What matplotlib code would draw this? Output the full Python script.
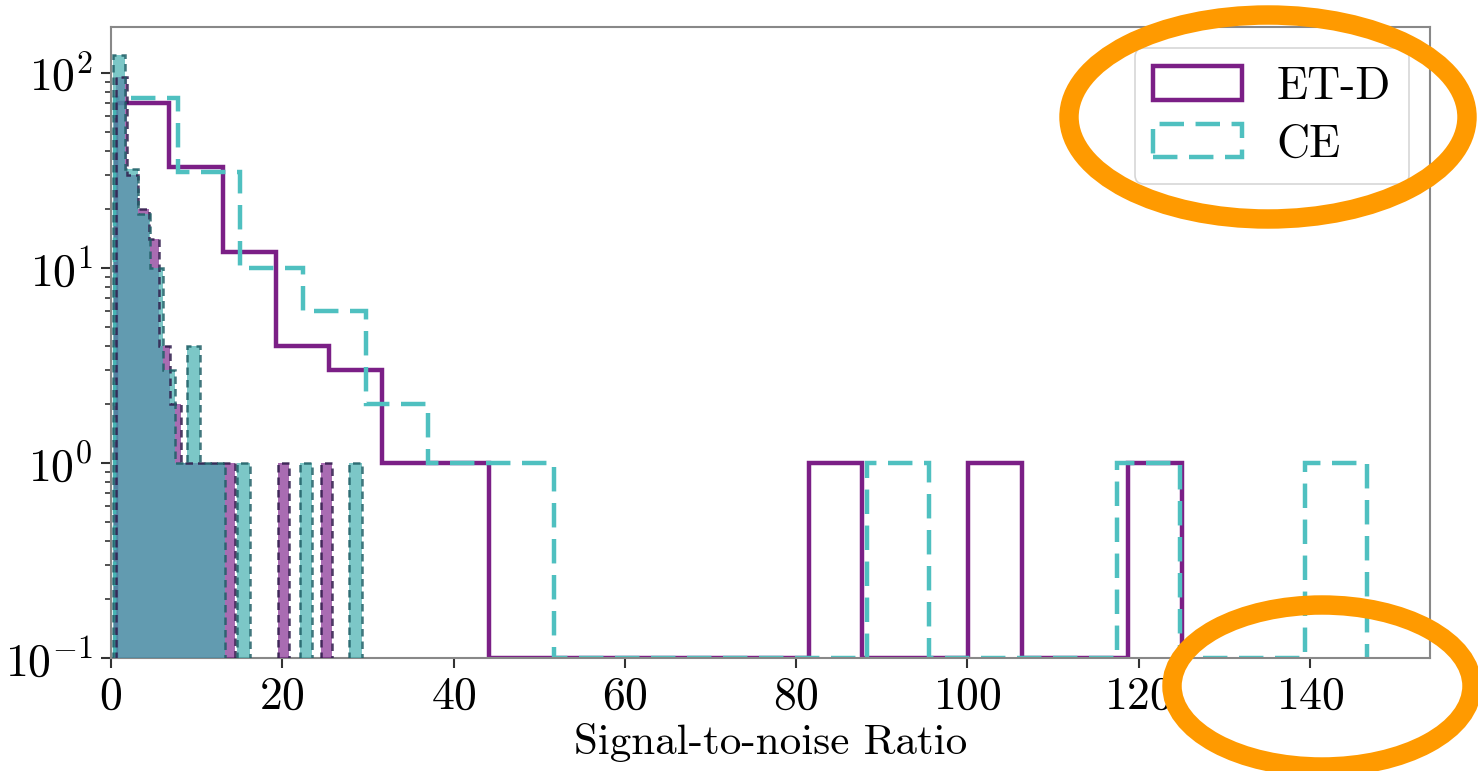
import numpy as np
import matplotlib
matplotlib.use("Agg")
import matplotlib.pyplot as plt
from matplotlib.patches import Ellipse, Patch
from matplotlib.ticker import FuncFormatter, LogLocator

plt.rcParams["font.family"] = "cmr10"
plt.rcParams["mathtext.fontset"] = "cm"
plt.rcParams["axes.formatter.use_mathtext"] = True

# Coarse SNR histograms (20 bins each)
etd_edges = np.linspace(0.6, 125.0, 21)
etd_counts = [70, 33, 12, 4, 3, 1, 1, 0, 0, 0, 0, 0, 0, 1, 0, 0, 1, 0, 0, 1]
ce_edges = np.linspace(0.5, 146.7, 21)
ce_counts = [74, 31, 10, 6, 2, 1, 1, 0, 0, 0, 0, 0, 1, 0, 0, 0, 1, 0, 0, 1]

# Fine SNR histograms (filled)
etd_fine_edges = np.linspace(0.6, 25.8, 21)
etd_fine_counts = [95, 30, 20, 14, 4, 2, 1, 1, 1, 1, 1, 0, 0, 0, 0, 1, 0, 0, 0, 1]
ce_fine_edges = np.linspace(0.2, 29.3, 21)
ce_fine_counts = [124, 32, 19, 10, 3, 1, 4, 1, 1, 0, 1, 0, 0, 0, 0, 1, 0, 0, 0, 1]

labels = ["ET-D", "CE"]
etd_color = "#7b1f86"
ce_color = "#4fc0c0"
dash = (0, (5.5, 2.6))
y_floor = 0.1

fig = plt.figure(figsize=(14.78, 7.71), dpi=100)
ax = fig.add_axes([0.0751, 0.1466, 0.8924, 0.8184])
ax.set_yscale("log")

# coarse step outlines (empty bins sit on the axis floor)
for edges, counts, col, ls in [
    (etd_edges, etd_counts, etd_color, "-"),
    (ce_edges, ce_counts, ce_color, dash),
]:
    vals = np.clip(np.asarray(counts, float), y_floor, None)
    ax.stairs(vals, edges, baseline=y_floor, color=col, linestyle=ls,
              linewidth=3.2, zorder=2)

# fine filled histograms
for edges, counts, fc, ec, a in [
    (etd_fine_edges, etd_fine_counts, "#700a80", "#2e1a4a", 0.6),
    (ce_fine_edges, ce_fine_counts, "#45b0b0", "#1f5f66", 0.7),
]:
    ax.stairs(np.asarray(counts, float), edges, baseline=0, fill=True,
              facecolor=fc, alpha=a, zorder=3)
    ax.stairs(np.asarray(counts, float), edges, baseline=0, fill=False,
              edgecolor=ec, linestyle=(0, (3, 2)), linewidth=1.8, alpha=0.85,
              zorder=4)

ax.set_xlim(0, 154)
ax.set_ylim(0.1, 172)
ax.yaxis.set_major_locator(LogLocator(base=10))
ax.yaxis.set_minor_locator(LogLocator(base=10, subs=np.arange(2, 10)))
ax.yaxis.set_major_formatter(FuncFormatter(lambda v, p: r"$10^{%d}$" % round(np.log10(v))))
ax.set_xticks(np.arange(0, 141, 20))

ax.tick_params(axis="both", which="major", labelsize=33, length=7, width=1.5,
               color="#333333", pad=6)
ax.tick_params(axis="y", which="minor", length=4, width=1.2, color="#333333")
for s in ax.spines.values():
    s.set_color("#888888")
    s.set_linewidth(1.5)

ax.set_xlabel("Signal-to-noise Ratio", fontsize=31, labelpad=4)

handles = [
    Patch(facecolor="none", edgecolor=etd_color, linewidth=3.2, label=labels[0]),
    Patch(facecolor="none", edgecolor=ce_color, linewidth=3.2, linestyle=dash,
          label=labels[1]),
]
leg = ax.legend(handles=handles, loc="upper right", fontsize=33, frameon=True,
                fancybox=True, borderpad=0.4, handlelength=1.95,
                handleheight=0.75, handletextpad=0.75, labelspacing=0.35,
                borderaxespad=0.45)
leg.get_frame().set_edgecolor("#cccccc")
leg.get_frame().set_linewidth(1.2)

# orange highlight rings
ring = dict(fill=False, edgecolor="#ff9a00", linewidth=14, transform=None,
            clip_on=False, zorder=10)
H = 771
fig.patches.append(Ellipse((1268, H - 117), 398, 204, **ring))
fig.patches.append(Ellipse((1322, H - 686), 300, 162, **ring))

fig.savefig("out.png", dpi=100)
